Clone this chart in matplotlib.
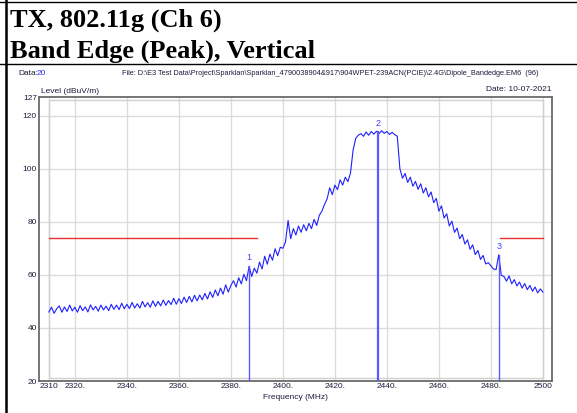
# Band edge plot (TX 802.11g Ch 6, peak, vertical)

import numpy as np
import matplotlib.pyplot as plt
from matplotlib.patches import Rectangle
from matplotlib.lines import Line2D

# trace, 1 MHz steps, 2310..2500 MHz
freq_start = 2310
level = [
    46.0, 47.8, 45.5, 47.2, 48.3, 45.9, 47.9, 46.2, 48.6, 46.4,   # 2310
    47.8, 45.9, 48.4, 46.5, 47.9, 46.0, 48.7, 46.8, 48.1, 46.3,   # 2320
    48.6, 46.8, 48.2, 46.5, 48.9, 47.0, 48.6, 46.9, 49.3, 47.2,   # 2330
    48.9, 47.3, 49.6, 47.5, 49.1, 47.5, 50.0, 47.9, 49.5, 47.8,   # 2340
    50.2, 48.1, 50.0, 48.3, 50.5, 48.5, 50.3, 48.8, 51.2, 48.9,   # 2350
    51.0, 49.2, 51.6, 49.6, 51.9, 49.8, 52.3, 50.2, 52.4, 50.6,   # 2360
    53.0, 50.9, 53.6, 51.5, 54.3, 52.1, 55.0, 52.7, 56.2, 53.5,   # 2370
    56.0, 57.8, 55.4, 58.9, 56.6, 60.2, 57.8, 63.2, 59.4, 62.5,   # 2380
    60.6, 64.8, 62.2, 67.0, 64.0, 67.8, 65.5, 69.8, 67.2, 70.4,   # 2390
    70.0, 72.4, 80.5, 73.6, 77.4, 75.0, 78.4, 76.0, 78.9, 76.6,   # 2400
    79.4, 77.4, 80.9, 78.6, 82.4, 84.0, 86.5, 88.6, 92.8, 90.2,   # 2410
    93.8, 92.1, 95.8, 93.8, 96.8, 95.1, 98.4, 107.0, 111.4, 112.6,  # 2420
    113.2, 112.2, 113.8, 112.6, 114.0, 113.0, 114.1, 113.2, 114.3, 113.3,  # 2430
    114.0, 112.9, 113.7, 112.8, 112.2, 100.0, 96.4, 98.2, 94.8, 96.8,  # 2440
    93.4, 95.2, 92.2, 94.3, 90.8, 92.8, 89.4, 91.2, 87.2, 88.8,   # 2450
    84.0, 86.0, 81.4, 83.0, 78.4, 80.2, 76.0, 77.6, 73.6, 75.2,   # 2460
    71.6, 73.2, 69.6, 71.3, 67.6, 69.2, 65.8, 67.3, 64.1, 64.6,   # 2470
    63.4, 62.2, 62.0, 67.5, 59.8, 59.4, 57.6, 59.6, 56.6, 58.2,   # 2480
    55.8, 57.3, 55.0, 56.7, 54.4, 56.0, 53.8, 55.4, 53.2, 54.7,   # 2490
    53.5,                                                         # 2500
]
freq = freq_start + np.arange(len(level))

# limit line segments (restricted bands)
limit_level = 74.0
limit_segments = [(2310, 2390), (2483.5, 2500)]

# markers
marker_ids = ["1", "2", "3"]
marker_freq = [2387.0, 2436.5, 2483.3]
marker_level = [63.2, 113.9, 67.5]

xtick_vals = [2310, 2320, 2340, 2360, 2380, 2400, 2420, 2440, 2460, 2480, 2500]
xtick_labels = ["2310", "2320.", "2340.", "2360.", "2380.", "2400.", "2420.",
                "2440.", "2460.", "2480.", "2500"]
ytick_vals = [20, 40, 60, 80, 100, 120, 127]

small = ["Liberation Sans", "DejaVu Sans"]
ink = "#1c1c3c"

fig = plt.figure(figsize=(5.77, 4.13), dpi=100)

# page frame lines (report table borders)
fig.add_artist(Line2D([0, 1], [1 - 2/413, 1 - 2/413], color="black", lw=1.0))
fig.add_artist(Line2D([0, 1], [1 - 64/413, 1 - 64/413], color="black", lw=1.0))
fig.add_artist(Line2D([5.5/577, 5.5/577], [0, 1], color="black", lw=1.8))

# titles
fig.text(10/577, 1 - 27/413, "TX, 802.11g (Ch 6)", family="Liberation Serif",
         weight="bold", fontsize=19, va="baseline", ha="left")
fig.text(10/577, 1 - 58/413, "Band Edge (Peak), Vertical", family="Liberation Serif",
         weight="bold", fontsize=19, va="baseline", ha="left")

# header of the analyser plot
fig.text(18/577, 1 - 75/413, "Data:", family=small, fontsize=6, color=ink)
fig.text(37/577, 1 - 75/413, "20", family=small, fontsize=6, color="#3030ff")
fig.text(330/577, 1 - 75/413,
         r"File: D:\E3 Test Data\Project\Sparklan\Sparklan_4790038904&917\904WPET-239ACN(PCIE)\2.4G\Dipole_Bandedge.EM6  (96)",
         family=small, fontsize=5.3, color=ink, ha="center")
fig.text(552/577, 1 - 91/413, "Date: 10-07-2021", family=small, fontsize=6,
         color=ink, ha="right")
fig.text(41/577, 1 - 93/413, "Level (dBuV/m)", family=small, fontsize=6,
         color=ink, ha="left")

ax = fig.add_axes([39/577, 1 - 381/413, (552 - 39)/577, (381 - 97)/413])
ax.set_xlim(2306.2, 2503.5)
ax.set_ylim(20, 127)

# grid
for x in range(2310, 2501, 10):
    if x == 2310 or x % 20 == 0:
        ax.axvline(x, color="#dcdcdc", lw=1.0, zorder=0)
for y in [40, 60, 80, 100, 120]:
    ax.axhline(y, color="#dcdcdc", lw=1.0, zorder=0)
ax.add_patch(Rectangle((2310, 21.1), 190, 104.8, fill=False, ec="#d0d0d0", lw=1.0, zorder=0))

# limit line
for x0, x1 in limit_segments:
    ax.plot([x0, x1], [limit_level, limit_level], color="#e83030", lw=1.0, zorder=2)

# trace
ax.plot(freq, level, color="#1f1fff", lw=0.8, zorder=3)

# markers
for mid, mf, ml in zip(marker_ids, marker_freq, marker_level):
    lw = 1.6 if mid == "2" else 1.0
    ax.plot([mf, mf], [20, ml], color="#5a5aff", lw=lw, zorder=4)
    ax.text(mf, ml + 1.5, mid, color="#4040ff", family=small, fontsize=6.5,
            ha="center", va="bottom")

ax.set_xticks(xtick_vals)
ax.set_xticklabels(xtick_labels)
ax.set_yticks(ytick_vals)
ax.tick_params(length=0, pad=1.5, labelsize=6, labelcolor=ink)
for lab in ax.get_xticklabels() + ax.get_yticklabels():
    lab.set_family(small)
for s in ax.spines.values():
    s.set_color("#6a6a6a")
    s.set_linewidth(1.3)

ax.set_xlabel("Frequency (MHz)", family=small, fontsize=6, color=ink, labelpad=3)

fig.savefig("out.png", dpi=100)
